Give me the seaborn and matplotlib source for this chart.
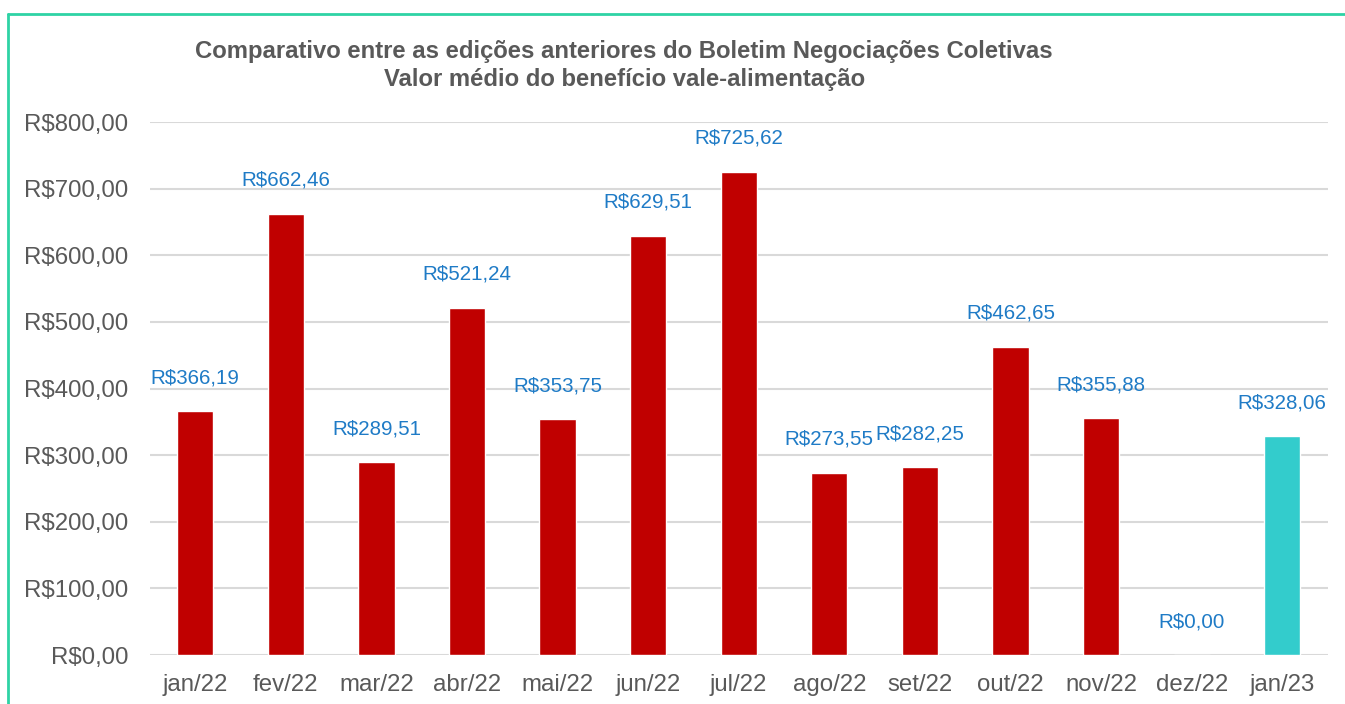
import matplotlib
matplotlib.use('Agg')
import matplotlib.pyplot as plt
import seaborn as sns
from matplotlib.lines import Line2D

months = ['jan/22', 'fev/22', 'mar/22', 'abr/22', 'mai/22', 'jun/22', 'jul/22',
          'ago/22', 'set/22', 'out/22', 'nov/22', 'dez/22', 'jan/23']
values = [366.19, 662.46, 289.51, 521.24, 353.75, 629.51, 725.62,
          273.55, 282.25, 462.65, 355.88, 0.00, 328.06]
yticks = [0, 100, 200, 300, 400, 500, 600, 700, 800]

title = ('Comparativo entre as edições anteriores do Boletim Negociações Coletivas\n'
         'Valor médio do benefício vale-alimentação')

sns.set_style('white')
plt.rcParams['font.family'] = ['Liberation Sans', 'DejaVu Sans']


def brl(v):
    return 'R$' + '{:.2f}'.format(v).replace('.', ',')


colors = ['#C00000'] * (len(months) - 1) + ['#33CCCC']

fig = plt.figure(figsize=(13.45, 7.04), dpi=100)
ax = fig.add_axes([0.1115, 0.0696, 0.8755, 0.7571])

sns.barplot(x=months, y=values, hue=months, palette=colors, legend=False,
            width=0.4, saturation=1, ax=ax)

ax.set_ylim(0, 800)
ax.set_xlim(-0.5, len(months) - 0.5)
ax.set_yticks(yticks)
ax.set_yticklabels([brl(t) for t in yticks])
ax.yaxis.grid(True, color='#D9D9D9', linewidth=1.5)
ax.set_axisbelow(True)
for s in ax.spines.values():
    s.set_visible(False)
ax.tick_params(axis='both', length=0, labelsize=17.3, colors='#595959')
ax.tick_params(axis='x', pad=14)
ax.tick_params(axis='y', pad=15.5)

for i, v in enumerate(values):
    ax.annotate(brl(v), (i, v), xytext=(0, 24), textcoords='offset points',
                ha='center', va='center', fontsize=14.8, color='#1F7BC6')

fig.text(0.464, 0.907, title, ha='center', va='center', fontsize=17.2,
         fontweight='bold', color='#595959', linespacing=1.28)

# green frame of the original screenshot
frame = '#2ED3A5'
fig.add_artist(Line2D([8 / 1345, 1], [1 - 13.5 / 704] * 2, color=frame,
                      linewidth=2, transform=fig.transFigure))
fig.add_artist(Line2D([8 / 1345] * 2, [0, 1 - 13.5 / 704], color=frame,
                      linewidth=2, transform=fig.transFigure))

fig.savefig('out.png', dpi=100)
